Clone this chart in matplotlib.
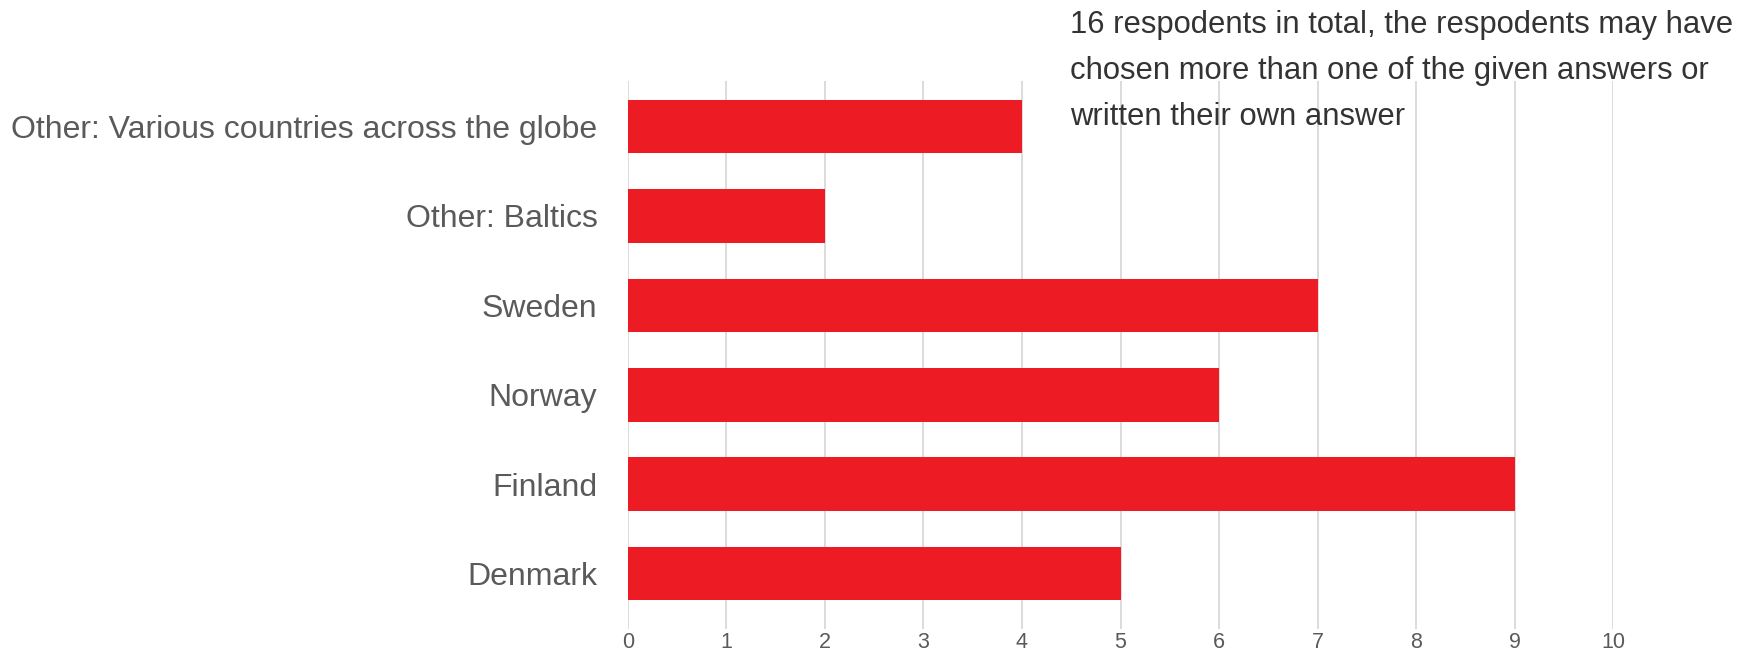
import matplotlib
matplotlib.use("Agg")
import matplotlib.pyplot as plt

plt.rcParams['font.family'] = ['Liberation Sans', 'DejaVu Sans']

categories = ['Denmark', 'Finland', 'Norway', 'Sweden', 'Other: Baltics',
              'Other: Various countries across the globe']
counts = [5, 9, 6, 7, 2, 4]
xticks = list(range(0, 11))
note = ('16 respodents in total, the respodents may have\n'
        'chosen more than one of the given answers or\n'
        'written their own answer')

fig = plt.figure(figsize=(17.56, 6.55), dpi=100)
ax = fig.add_axes([628 / 1756, 1 - 629 / 655, (1613 - 628) / 1756, (629 - 81) / 655])

ax.barh(range(len(categories)), counts, height=0.6, color='#ed1c24', zorder=3)
ax.set_xlim(0, 10)
ax.set_ylim(-0.62, 5.51)
ax.set_xticks(xticks)
ax.set_yticks(range(len(categories)))
ax.set_yticklabels(categories, fontsize=23, color='#5a5a5a')
ax.set_xticklabels([str(t) for t in xticks], fontsize=15.5, color='#5a5a5a',
                   family=['Liberation Sans Narrow', 'Liberation Sans'])
ax.tick_params(axis='y', length=0, pad=22)
ax.tick_params(axis='x', length=0, pad=2)
ax.grid(axis='x', color='#d9d9d9', linewidth=1.3, zorder=0)
for s in ax.spines.values():
    s.set_visible(False)

fig.text(1070 / 1756, 1 - 10 / 655, note, fontsize=22.3, color='#333333',
         va='top', ha='left', linespacing=1.7)

fig.savefig('out.png', dpi=100)
